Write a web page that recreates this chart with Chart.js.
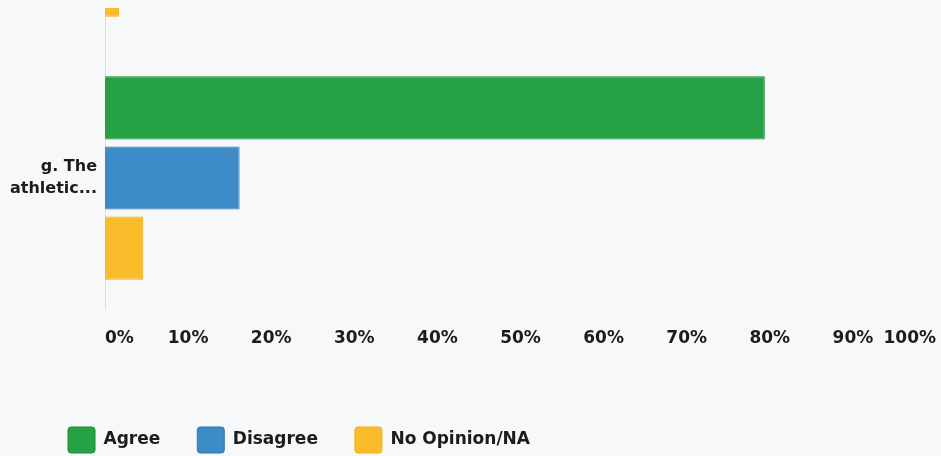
<!DOCTYPE html>
<html>
<head>
<meta charset="utf-8">
<script src="https://cdn.jsdelivr.net/npm/chart.js@4.4.0/dist/chart.umd.min.js"></script>
<style>
  html, body { margin: 0; padding: 0; background: #f6f8f9; overflow: hidden; }
  #wrap { position: relative; width: 941px; height: 463px; }
</style>
</head>
<body>
<div id="wrap"><canvas id="chart1"></canvas></div>
<script>
// row 0 is the question above, only its last bar peeks in at the top
var categories = [['', ''], ['g. The', 'athletic...']];
var seriesNames = ['Agree', 'Disagree', 'No Opinion/NA'];
var agree = [null, 79.4];
var disagree = [null, 16.2];
var noOpinion = [1.7, 4.6];
var xTickLabels = ['0%', '10%', '20%', '30%', '40%', '50%', '60%', '70%', '80%', '90%', '100%'];

var textColor = '#1c1c1c';

function toPoints(arr) {
  var pts = [];
  arr.forEach(function(v, i) {
    if (v !== null) pts.push({x: v, y: i});
  });
  return pts;
}

// legend starts further right than the axis box
var legendShift = {
  id: 'legendShift',
  afterLayout: function(chart) {
    chart.legend.left += 31;
  }
};

var ctx = document.getElementById('chart1').getContext('2d');

var myChart = new Chart(ctx, {
  type: 'bar',
  data: {
    datasets: [{
      label: seriesNames[0],
      data: toPoints(agree),
      backgroundColor: '#26a245',
      borderColor: '#1c8c3a',
      borderWidth: 1,
      clip: 0
    }, {
      label: seriesNames[1],
      data: toPoints(disagree),
      backgroundColor: '#3d8cc8',
      borderColor: '#2f77b0',
      borderWidth: 1,
      clip: 0
    }, {
      label: seriesNames[2],
      data: toPoints(noOpinion),
      backgroundColor: '#fbbc2c',
      borderColor: '#f2ae1c',
      borderWidth: 1,
      clip: 0
    }]
  },
  plugins: [legendShift],
  options: {
    indexAxis: 'y',
    responsive: true,
    maintainAspectRatio: false,
    animation: false,
    layout: {
      padding: {top: 8, left: 0, right: 5, bottom: 0}
    },
    plugins: {
      tooltip: {enabled: false},
      legend: {
        position: 'bottom',
        align: 'start',
        labels: {
          color: textColor,
          boxWidth: 27,
          boxHeight: 26,
          padding: 37,
          useBorderRadius: true,
          borderRadius: 3,
          font: {family: 'DejaVu Sans', weight: 'bold', size: 17}
        }
      }
    },
    scales: {
      x: {
        type: 'linear',
        min: 0,
        max: 100,
        ticks: {
          stepSize: 10,
          align: 'inner',
          padding: 19,
          color: textColor,
          font: {family: 'DejaVu Sans', weight: 'bold', size: 17},
          callback: function(v, i) { return xTickLabels[i]; }
        },
        grid: {display: false, drawTicks: false},
        border: {display: false},
        afterFit: function(s) {
          s.height = 80.5;
          s.paddingLeft = 0;
          s.paddingRight = 0;
        }
      },
      y: {
        type: 'linear',
        reverse: true,
        offset: false,
        min: 0.3536,
        max: 1.5,
        afterBuildTicks: function(s) {
          s.ticks = [{value: 1}];
        },
        ticks: {
          padding: 8,
          color: textColor,
          font: {family: 'DejaVu Sans', weight: 'bold', size: 16, lineHeight: 1.375},
          callback: function(v) { return categories[v]; }
        },
        grid: {display: false, drawTicks: false},
        border: {display: true, color: '#dde0e2', dash: [1, 3]},
        afterFit: function(s) {
          s.width = 105;
          s.paddingTop = 0;
          s.paddingBottom = 0;
        }
      }
    }
  }
});
</script>
</body>
</html>
